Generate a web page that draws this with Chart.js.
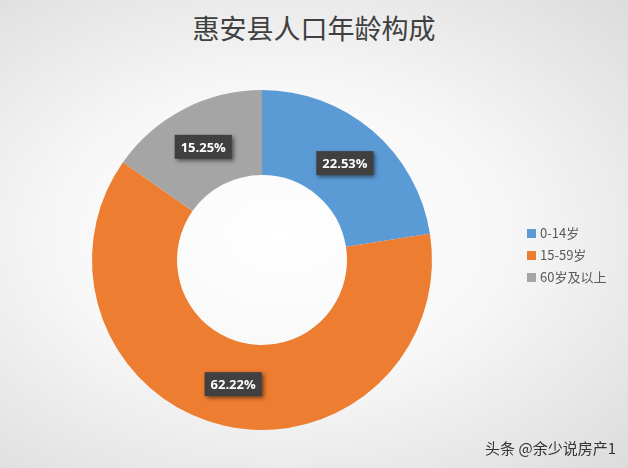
<!DOCTYPE html>
<html>
<head>
<meta charset="utf-8">
<script src="https://cdn.jsdelivr.net/npm/chart.js@4/dist/chart.umd.min.js"></script>
<style>
  html, body { margin: 0; padding: 0; }
  body {
    width: 628px; height: 468px; overflow: hidden; position: relative;
    background: radial-gradient(ellipse at 45% 50%, #ffffff 0%, #f7f7f7 45%, #dcdcdc 100%);
    font-family: "Noto Sans CJK SC", "Noto Sans", sans-serif;
  }
  #title { position: absolute; top: 8px; left: 0; width: 628px; text-align: center;
    font-size: 27px; color: #404040; font-family: "Noto Sans CJK SC", serif; }
  #legend { position: absolute; left: 527px; top: 222px; font-size: 13px; color: #595959; }
  #legend div { height: 22px; line-height: 22px; }
  #legend span.sw { display: inline-block; width: 9px; height: 9px; margin-right: 4px; }
  #mark { position: absolute; right: 12px; bottom: 10px; font-size: 15px; color: #333; }
  canvas { position: absolute; left: 0; top: 0; }
</style>
</head>
<body>
<div id="title">惠安县人口年龄构成</div>
<canvas id="c" width="628" height="468"></canvas>
<div id="legend"></div>
<div id="mark">头条 @余少说房产1</div>
<script>
const categories = ['0-14岁', '15-59岁', '60岁及以上'];
const values = [22.53, 62.22, 15.25];
const colors = ['#5b9bd5', '#ed7d31', '#a5a5a5'];

const legend = document.getElementById('legend');
categories.forEach((c, i) => {
  const d = document.createElement('div');
  d.innerHTML = '<span class="sw" style="background:' + colors[i] + '"></span>' + c;
  legend.appendChild(d);
});

const boxLabels = {
  id: 'boxLabels',
  afterDatasetsDraw(chart) {
    const ctx = chart.ctx;
    const meta = chart.getDatasetMeta(0);
    ctx.save();
    ctx.font = 'bold 13px "Open Sans", "DejaVu Sans", sans-serif';
    ctx.textAlign = 'center';
    ctx.textBaseline = 'middle';
    meta.data.forEach((arc, i) => {
      const p = arc.tooltipPosition();
      const t = values[i].toFixed(2) + '%';
      const w = ctx.measureText(t).width + 12, h = 24;
      ctx.shadowColor = 'rgba(0,0,0,0.5)';
      ctx.shadowBlur = 4;
      ctx.shadowOffsetX = 2;
      ctx.shadowOffsetY = 2;
      ctx.fillStyle = '#404040';
      ctx.fillRect(p.x - w / 2, p.y - h / 2, w, h);
      ctx.shadowColor = 'transparent';
      ctx.fillStyle = '#ffffff';
      ctx.fillText(t, p.x, p.y + 1);
    });
    ctx.restore();
  }
};

new Chart(document.getElementById('c'), {
  type: 'doughnut',
  data: {
    labels: categories,
    datasets: [{ data: values, backgroundColor: colors, borderWidth: 0 }]
  },
  options: {
    responsive: false,
    animation: false,
    cutout: '50%',
    layout: { padding: { top: 90, bottom: 38, left: 92, right: 196 } },
    plugins: { legend: { display: false }, tooltip: { enabled: false } }
  },
  plugins: [boxLabels]
});
</script>
</body>
</html>
